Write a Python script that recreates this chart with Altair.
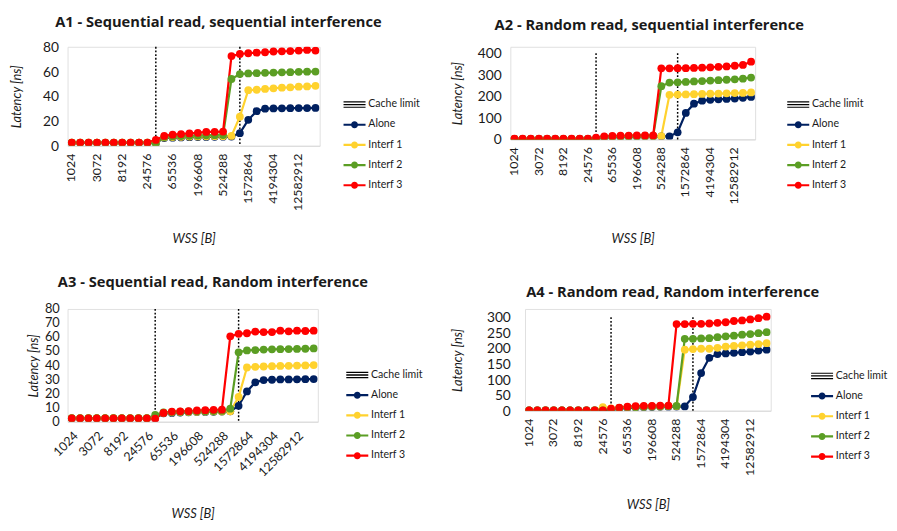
import altair as alt
import pandas as pd

WSS = ["1024", "1536", "2048", "3072", "4096", "6144", "8192", "12288", "16384", "24576",
       "32768", "49152", "65536", "98304", "131072", "196608", "262144", "393216", "524288", "786432",
       "1048576", "1572864", "2097152", "3145728", "4194304", "6291456", "8388608", "12582912", "16777216", "25165824"]
TICK_LABELS = ["1024", "3072", "8192", "24576", "65536", "196608", "524288", "1572864", "4194304", "12582912"]
SERIES = ["Alone", "Interf 1", "Interf 2", "Interf 3"]
LEGEND_ITEMS = ["Cache limit", "Alone", "Interf 1", "Interf 2", "Interf 3"]
COLORS = ["#000000", "#002060", "#FFD22E", "#5B9E24", "#FF0000"]
CACHE_LIMITS = ["32768", "1048576"]

# A1 - Sequential read, sequential interference
A1_ALONE = [2.4, 2.4, 2.4, 2.4, 2.4, 2.4, 2.4, 2.4, 2.4, 2.4, 2.6, 6.3, 6.6, 6.8, 7.0, 7.1, 7.2, 7.3, 7.4, 7.5,
            10.2, 21.0, 28.0, 30.0, 30.2, 30.3, 30.4, 30.5, 30.5, 30.6]
A1_I1 = [2.5, 2.5, 2.5, 2.5, 2.5, 2.5, 2.5, 2.5, 2.5, 2.5, 2.8, 6.8, 7.1, 7.3, 7.5, 7.6, 7.7, 7.8, 7.8, 8.0,
         23.5, 45.0, 45.3, 46.0, 46.5, 47.0, 47.3, 47.8, 48.0, 48.5]
A1_I2 = [2.5, 2.5, 2.5, 2.5, 2.5, 2.5, 2.5, 2.5, 2.5, 2.5, 1.5, 7.2, 7.6, 7.9, 8.1, 8.3, 8.5, 8.6, 8.7, 54.0,
         58.0, 58.5, 58.7, 59.0, 59.2, 59.4, 59.5, 59.8, 59.9, 60.0]
A1_I3 = [2.6, 2.6, 2.6, 2.6, 2.6, 2.6, 2.6, 2.6, 2.6, 2.6, 4.8, 8.0, 9.0, 9.5, 10.0, 10.5, 11.2, 11.3, 11.5, 72.5,
         74.2, 74.8, 75.3, 75.6, 76.2, 76.4, 76.6, 77.0, 77.5, 77.0]

# A2 - Random read, sequential interference
A2_ALONE = [2.0, 2.0, 2.0, 2.0, 2.0, 2.0, 2.0, 2.0, 2.0, 2.0, 3.0, 8.0, 10.0, 11.0, 12.0, 13.0, 13.5, 14.0, 14.0, 14.0,
            33.0, 123.0, 166.0, 180.0, 184.0, 186.0, 188.0, 190.0, 193.0, 197.0]
A2_I1 = [2.5, 2.5, 2.5, 2.5, 2.5, 2.5, 2.5, 2.5, 2.5, 2.5, 4.0, 10.0, 12.0, 13.0, 14.0, 14.5, 15.0, 15.0, 15.0, 207.0,
         208.0, 209.0, 210.0, 211.0, 212.0, 213.0, 214.0, 215.0, 216.0, 218.0]
A2_I2 = [2.5, 2.5, 2.5, 2.5, 2.5, 2.5, 2.5, 2.5, 2.5, 2.5, 2.0, 11.0, 13.0, 14.0, 15.0, 15.5, 16.0, 16.0, 247.0, 264.0,
         265.0, 267.0, 269.0, 271.0, 273.0, 275.0, 277.0, 279.0, 282.0, 287.0]
A2_I3 = [3.0, 3.0, 3.0, 3.0, 3.0, 3.0, 3.0, 3.0, 3.0, 3.0, 8.5, 14.0, 16.0, 17.0, 18.0, 18.5, 18.5, 18.5, 330.0, 330.0,
         331.0, 331.0, 332.0, 333.0, 335.0, 337.0, 339.0, 342.0, 346.0, 361.0]

# A3 - Sequential read, Random interference
A3_ALONE = [2.4, 2.4, 2.4, 2.4, 2.4, 2.4, 2.4, 2.4, 2.4, 2.4, 2.6, 6.0, 6.3, 6.5, 6.7, 6.9, 7.0, 7.1, 7.2, 7.4,
            11.3, 21.5, 28.0, 29.6, 29.8, 30.0, 30.0, 30.1, 30.2, 30.3]
A3_I1 = [2.5, 2.5, 2.5, 2.5, 2.5, 2.5, 2.5, 2.5, 2.5, 2.5, 3.0, 6.4, 6.7, 6.9, 7.0, 7.1, 7.2, 7.3, 7.3, 7.4,
         17.6, 38.5, 39.0, 39.2, 39.4, 39.6, 39.7, 39.9, 40.0, 40.2]
A3_I2 = [2.5, 2.5, 2.5, 2.5, 2.5, 2.5, 2.5, 2.5, 2.5, 2.5, 4.8, 6.6, 6.9, 7.1, 7.3, 7.4, 7.5, 7.6, 7.7, 9.3,
         49.3, 50.6, 50.9, 51.2, 51.4, 51.5, 51.6, 51.7, 51.8, 52.0]
A3_I3 = [2.4, 2.4, 2.4, 2.4, 2.4, 2.4, 2.4, 2.4, 2.4, 2.4, 2.2, 6.3, 7.2, 7.4, 7.6, 8.0, 8.2, 8.5, 8.6, 60.6,
         62.4, 62.8, 64.0, 63.6, 63.6, 64.6, 64.2, 64.6, 64.4, 64.6]

# A4 - Random read, Random interference
A4_ALONE = [0.8, 0.8, 0.8, 0.8, 0.8, 0.8, 0.8, 0.8, 0.8, 0.8, 3.0, 7.0, 9.0, 10.0, 11.0, 12.0, 12.5, 13.0, 13.5, 14.0,
            44.0, 121.0, 170.0, 182.0, 184.0, 186.0, 188.0, 190.0, 193.0, 196.0]
A4_I1 = [1.0, 1.0, 1.0, 1.0, 1.0, 1.0, 1.0, 1.0, 1.0, 12.0, 8.0, 9.0, 11.0, 12.0, 13.0, 14.0, 14.0, 15.0, 15.0, 196.0,
         198.0, 199.0, 199.0, 202.0, 206.0, 208.0, 210.0, 212.0, 214.0, 217.0]
A4_I2 = [1.0, 1.0, 1.0, 1.0, 1.0, 1.0, 1.0, 1.0, 1.0, 1.0, 0.5, 9.0, 11.0, 12.0, 13.0, 14.0, 14.5, 15.0, 16.0, 231.0,
         231.0, 232.0, 233.0, 236.0, 239.0, 241.0, 244.0, 246.0, 249.0, 252.0]
A4_I3 = [1.0, 1.0, 1.0, 1.0, 1.0, 1.0, 1.0, 1.0, 1.0, 1.0, 7.0, 10.0, 13.0, 15.0, 16.0, 16.0, 16.5, 16.5, 278.0, 278.0,
         279.0, 279.0, 280.0, 282.0, 284.0, 288.0, 290.0, 293.0, 297.0, 302.0]

FONT = "Lato"
TITLE_FONT = "Open Sans"
TEXT = "#1a1a1a"
LINE_SYM = "M-1,-0.1H1V0.1H-1Z M-0.32,0A0.32,0.32 0 1 1 0.32,0A0.32,0.32 0 1 1 -0.32,0Z"
CACHE_SYM = "M-1,-0.3H1V-0.19H-1Z M-1,-0.06H1V0.06H-1Z M-1,0.19H1V0.3H-1Z"
SHAPES = [CACHE_SYM, LINE_SYM, LINE_SYM, LINE_SYM, LINE_SYM]


def panel(title, vals, ymax, ydom, ystep, angle, w, h, lx, ly, tdx, toff, ytp, ylp, xtp, ylfs):
    rows = []
    for name, series in zip(SERIES, vals):
        for i, (wss, v) in enumerate(zip(WSS, series)):
            rows.append({"wss": wss, "idx": i, "latency": v, "series": name})
    df = pd.DataFrame(rows)

    legend = alt.Legend(title=None, orient="none", legendX=lx, legendY=ly,
                        labelFont=FONT, labelFontSize=11.5, labelColor=TEXT, labelOffset=3,
                        symbolSize=576, symbolStrokeWidth=0, rowPadding=4, padding=0)
    color = alt.Color("series:N", scale=alt.Scale(domain=LEGEND_ITEMS, range=COLORS), legend=legend)
    x = alt.X("wss:N", scale=alt.Scale(domain=WSS),
              axis=alt.Axis(values=TICK_LABELS, labelAngle=angle, title="WSS [B]",
                            labelFont=FONT, labelFontSize=13.5, labelColor=TEXT, labelPadding=8,
                            titleFont=FONT, titleFontSize=14, titleFontWeight="normal", titleFontStyle="italic",
                            titleColor=TEXT, titlePadding=xtp, domainColor="#D9D9D9", ticks=False, grid=False))
    yscale = alt.Scale(domain=[0, ydom], nice=False, zero=True)
    yaxis = alt.Axis(values=list(range(0, ymax + 1, ystep)), title="Latency [ns]", labelOverlap=False,
                     labelFont=FONT, labelFontSize=ylfs, labelColor=TEXT, labelPadding=ylp,
                     titleFont=FONT, titleFontSize=14, titleFontWeight="normal", titleFontStyle="italic",
                     titleColor=TEXT, titlePadding=ytp, domain=False, ticks=False,
                     gridColor="#D9D9D9", gridWidth=1.2)
    y = alt.Y("latency:Q", scale=yscale, axis=yaxis)

    rules = alt.Chart(pd.DataFrame({"wss": CACHE_LIMITS})).mark_rule(
        strokeDash=[2, 2], strokeWidth=1.6, color="#000000").encode(
        x=x, y=alt.Y(datum=ymax, scale=yscale, axis=yaxis), y2=alt.Y2(datum=0))
    lines = alt.Chart(df).mark_line(strokeWidth=2.4, clip=True).encode(
        x=x, y=y, color=color, order="idx:Q")
    points = alt.Chart(df).mark_point(filled=True, size=72, opacity=1, clip=True).encode(
        x=x, y=y, color=color)
    leg = alt.Chart(pd.DataFrame({"series": LEGEND_ITEMS, "latency": [None] * 5})).mark_point(
        filled=True, opacity=1).encode(
        y=y, color=color,
        shape=alt.Shape("series:N", scale=alt.Scale(domain=LEGEND_ITEMS, range=SHAPES), legend=legend))

    return alt.layer(rules, lines, points, leg).properties(
        width=w, height=h,
        title=alt.TitleParams(title, font=TITLE_FONT, fontSize=16, fontWeight="bold", color=TEXT,
                              anchor="middle", dx=tdx, offset=toff))


A1 = panel("A1 - Sequential read, sequential interference", [A1_ALONE, A1_I1, A1_I2, A1_I3],
           80, 80, 20, -90, 275, 108, 301, 51, 27, 11.5, 21, 10, 24, 15)
A2 = panel("A2 - Random read, sequential interference", [A2_ALONE, A2_I1, A2_I2, A2_I3],
           400, 430, 100, -90, 267, 101, 302, 51, 18, 15.5, 14, 10, 31, 15)
A3 = panel("A3 - Sequential read, Random interference", [A3_ALONE, A3_I1, A3_I2, A3_I3],
           80, 80, 10, -45, 273, 123, 304, 60, 22, 14, 5, 9, 32, 14)
A4 = panel("A4 - Random read, Random interference", [A4_ALONE, A4_I1, A4_I2, A4_I3],
           300, 326.5, 50, -90, 268, 111, 312, 61, 27, 10, 24, 16, 25, 15)

chart = alt.concat(A1, A2, A3, A4, columns=2, spacing={"row": 16, "column": 29},
                   align={"row": "all", "column": "none"}).resolve_scale(
    color="independent", shape="independent", x="independent", y="independent"
).resolve_legend(color="independent", shape="independent").configure_view(stroke=None).configure(
    background="white", padding={"top": -17, "left": 2, "right": 0, "bottom": 0})

chart.save("out.html", embed_options={"renderer": "svg", "actions": False})
